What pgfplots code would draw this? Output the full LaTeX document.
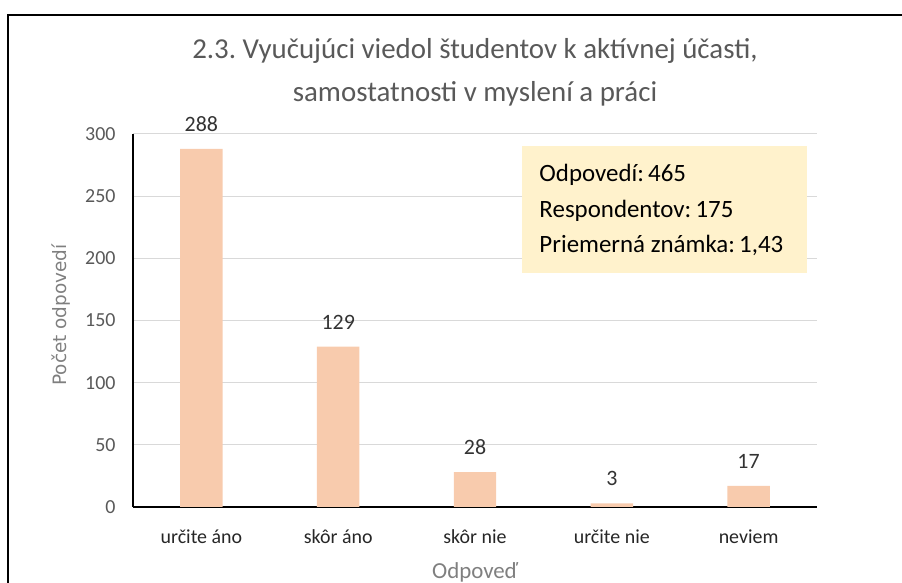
\documentclass[border=0pt]{standalone}
\usepackage{pgfplots}
\pgfplotsset{compat=1.18}
\usepackage{fontspec}
\setmainfont{Carlito}
\newfontfamily\labfont{DejaVu Sans}
\definecolor{barc}{HTML}{F8CBAD}
\definecolor{boxc}{HTML}{FFF2CC}
\definecolor{txt}{HTML}{595959}
\definecolor{lbl}{HTML}{7F7F7F}
\definecolor{gridc}{HTML}{D9D9D9}
\frenchspacing
\begin{document}
\begin{tikzpicture}
\begin{axis}[
    at={(133bp,76bp)}, anchor=south west,
    scale only axis, width=684bp, height=373bp,
    xmin=-0.5, xmax=4.5, ymin=0, ymax=300,
    ytick={0,50,...,300},
    xtick={0,...,4},
    xticklabels={určite áno, skôr áno, skôr nie, určite nie, neviem},
    axis lines=left,
    axis line style={-, black, line width=2.5bp},
    major tick length=0,
    ymajorgrids,
    grid style={draw=gridc, line width=1bp},
    yticklabel style={font=\fontsize{20}{23}\selectfont, text=txt, xshift=-14bp},
    xticklabel style={font=\fontsize{20}{24}\selectfont, text=black!85, yshift=-19bp},
    /pgf/number format/assume math mode=true,
    ybar, bar width=0.31,
    nodes near coords,
    nodes near coords style={font=\fontsize{22}{26}\selectfont, text=black!80, yshift=14bp},
]
\addplot[fill=barc, draw=none] coordinates {
    (0,288) (1,129) (2,28) (3,3) (4,17)};
\fill[boxc] (axis cs:2.34,290.4) rectangle (axis cs:4.43,188);
\node[anchor=north west, inner sep=0, align=left,
      font=\fontsize{25}{35.5}\selectfont, text=black]
    at (axis cs:2.47,275.5) {Odpovedí:\,465\\Respondentov:\,175\\Priemerná známka:\,1,43};
\end{axis}
\node[text=txt, font=\fontsize{29}{43}\selectfont, align=center]
    at (475bp,511bp) {2.3. Vyučujúci viedol študentov k aktívnej účasti,\\samostatnosti v myslení a práci};
\node[text=lbl, font=\fontsize{23}{26}\selectfont] at (475bp,11bp) {Odpoveď};
\node[text=lbl, font=\labfont\fontsize{18.5}{20}\selectfont, rotate=90] at (61bp,268bp) {Počet odpovedí};
\draw[black, line width=1.5bp] (8bp,0) -- (8bp,568bp) -- (902bp,568bp);
\pgfresetboundingbox
\useasboundingbox (0,0) rectangle (902bp,583bp);
\end{tikzpicture}
\end{document}
